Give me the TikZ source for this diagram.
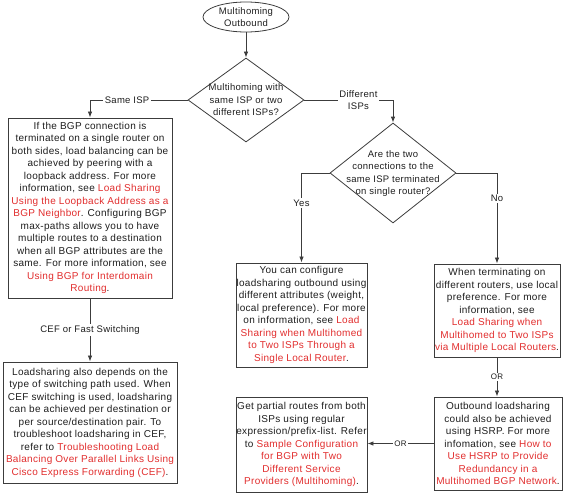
\documentclass[tikz,border=0pt]{standalone}
\usepackage{fontspec}
\setmainfont{Liberation Sans}[LetterSpace=3]
\usetikzlibrary{shapes.geometric,arrows.meta}
\definecolor{lnk}{RGB}{225,45,45}
\definecolor{txt}{RGB}{30,30,30}
\definecolor{edge}{RGB}{60,60,60}
\newcommand{\lk}[1]{\textcolor{lnk}{#1}}
\begin{document}
\begin{tikzpicture}[x=1pt,y=-1pt,
  every node/.style={text=txt},
  box/.style={draw=edge,line width=0.9pt,rectangle,inner sep=0pt,align=center,
    font=\fontsize{10}{12.5}\selectfont},
  dia/.style={draw=edge,line width=0.8pt,diamond,inner sep=0pt},
  dtext/.style={align=center,inner sep=0pt,font=\fontsize{9.5}{12.5}\selectfont},
  conn/.style={draw=edge,line width=0.8pt,-{Latex[length=6pt,width=4.5pt]}},
  lbl/.style={fill=white,inner sep=1.5pt,font=\fontsize{9.5}{12.5}\selectfont,align=center},
  orlbl/.style={fill=white,inner sep=1.5pt,font=\fontsize{8}{10}\selectfont}]
\useasboundingbox (0,0) rectangle (569,495);

\node[draw=edge,line width=0.8pt,ellipse,minimum width=86pt,minimum height=30pt,inner sep=0pt,
  align=center,font=\fontsize{9.5}{12.5}\selectfont] (ell) at (246,17) {Multihoming\\Outbound};

\node[dia,minimum width=116pt,minimum height=84pt] (d1) at (246,100) {};
\node[dtext] (d1t) at (246,100) {Multihoming with\\same ISP or two\\different ISPs?};

\node[dia,minimum width=126pt,minimum height=100pt] (d2) at (393,173) {};
\node[dtext] (d2t) at (393,173.5) {Are the two\\connections to the\\same ISP terminated\\on single router?};

\node[box,minimum width=164pt,minimum height=180pt] (b1) at (90,208) {%
If the BGP connection is\\
terminated on a single router on\\
both sides, load balancing can be\\
achieved by peering with a\\
loopback address. For more\\
information, see \lk{Load Sharing}\\
\lk{Using the Loopback Address as a}\\
\lk{BGP Neighbor}. Configuring BGP\\
max-paths allows you to have\\
multiple routes to a destination\\
when all BGP attributes are the\\
same. For more information, see\\
\lk{Using BGP for Interdomain}\\
\lk{Routing}.};

\node[box,minimum width=174pt,minimum height=121pt] (b2) at (90,422.5) {%
Loadsharing also depends on the\\
type of switching path used. When\\
CEF switching is used, loadsharing\\
can be achieved per destination or\\
per source/destination pair. To\\
troubleshoot loadsharing in CEF,\\
refer to \lk{Troubleshooting Load}\\
\lk{Balancing Over Parallel Links Using}\\
\lk{Cisco Express Forwarding (CEF)}.};

\node[box,minimum width=131pt,minimum height=104pt] (b3) at (301.5,315) {%
You can configure\\
loadsharing outbound using\\
different attributes (weight,\\
local preference). For more\\
on information, see \lk{Load}\\
\lk{Sharing when Multihomed}\\
\lk{to Two ISPs Through a}\\
\lk{Single Local Router}.};

\node[box,minimum width=126pt,minimum height=93pt] (b4) at (497,310.5) {%
When terminating on\\
different routers, use local\\
preference. For more\\
information, see\\
\lk{Load Sharing when}\\
\lk{Multihomed to Two ISPs}\\
\lk{via Multiple Local Routers}.};

\node[box,minimum width=128pt,minimum height=93pt] (b5) at (498,443.5) {%
Outbound loadsharing\\
could also be achieved\\
using HSRP. For more\\
infomation, see \lk{How to}\\
\lk{Use HSRP to Provide}\\
\lk{Redundancy in a}\\
\lk{Multihomed BGP Network}.};

\node[box,minimum width=131pt,minimum height=95pt] (b6) at (301.5,444.5) {%
Get partial routes from both\\
ISPs using regular\\
expression/prefix-list. Refer\\
to \lk{Sample Configuration}\\
\lk{for BGP with Two}\\
\lk{Different Service}\\
\lk{Providers (Multihoming)}.};

\draw[conn] (ell) -- (d1);
\draw[conn] (d1.west) -| node[lbl,pos=0.31] {Same ISP} (b1.north);
\draw[conn] (d1.east) -| node[lbl,pos=0.305] {Different\\ISPs} (d2.north);
\draw[conn] (d2.west) -| node[lbl,pos=0.667] {Yes} (b3.north);
\draw[conn] (d2.east) -| node[lbl,pos=0.64] {No} (b4.north);
\draw[conn] (b1) -- node[lbl] {CEF or Fast Switching} (b2);
\draw[conn] (b4.south) -- node[orlbl] {OR} (b4.south |- b5.north);
\draw[conn] (b5.west) -- node[orlbl] {OR} (b5.west -| b6.east);
\end{tikzpicture}
\end{document}
